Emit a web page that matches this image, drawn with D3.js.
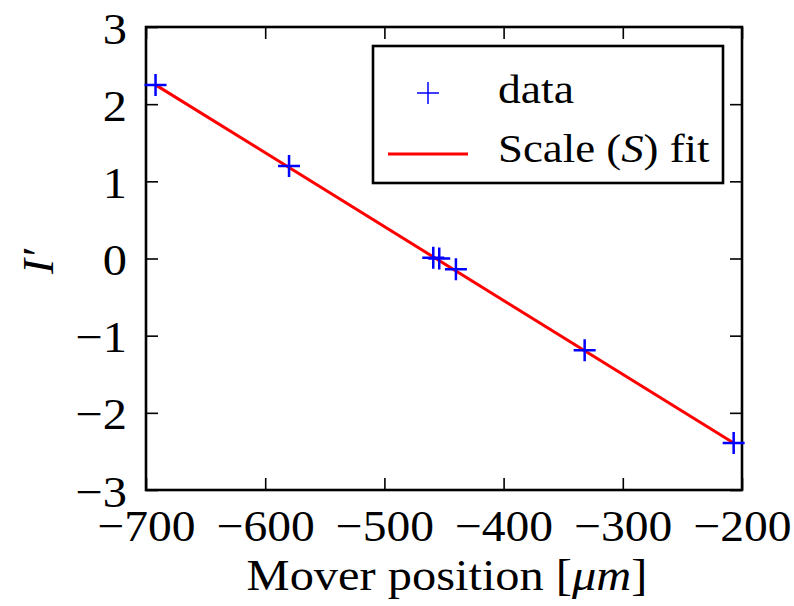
<!DOCTYPE html>
<meta charset="utf-8">
<head>
    <title>Scale fit</title>
    <script src="https://d3js.org/d3.v7.min.js"></script>
    <style>
        body { margin: 0; background: #ffffff; }
        text { font-family: "Liberation Serif", "DejaVu Serif", serif; fill: #000; }
    </style>
</head>
<body>
<div id="my_dataviz"></div>
<script>

// data
var posX = [-692, -580, -459, -454, -440, -332, -207];
var posY = [2.25, 1.20, 0.01, 0.0, -0.14, -1.19, -2.39];
// fitted line end points
var fitX = [-692, -207];
var fitY = [2.25, -2.39];
var xTicks = [-700, -600, -500, -400, -300, -200];
var yTicks = [-3, -2, -1, 0, 1, 2, 3];

// set dimensions and margins of the graph
var margin = {top: 27, right: 52, bottom: 116, left: 146},
    width = 794 - margin.left - margin.right,
    height = 606 - margin.top - margin.bottom;

var svg = d3.select("#my_dataviz")
    .append("svg")
    .attr("width", 794)
    .attr("height", 606)
    .append("g")
    .attr("transform", "translate(" + margin.left + "," + margin.top + ")");

var x = d3.scaleLinear().domain([-700, -200]).range([0, width]);
var y = d3.scaleLinear().domain([-3, 3]).range([height, 0]);

// widen Times glyphs a bit so they come closer to Computer Modern
function stretch(sel, k) {
    sel.each(function() {
        var w = this.getComputedTextLength();
        d3.select(this).attr("textLength", w * k).attr("lengthAdjust", "spacingAndGlyphs");
    });
}

// axes, ticks pointing inward on all four sides
var xAxis = svg.append("g")
    .attr("transform", "translate(0," + height + ")")
    .call(d3.axisBottom(x).tickValues(xTicks).tickFormat(d3.format("d")).tickSize(-12).tickPadding(0));
xAxis.selectAll("text").attr("y", 51).attr("dy", 0).style("font-size", "44px");
stretch(xAxis.selectAll("text"), 1.08);

svg.append("g")
    .call(d3.axisTop(x).tickValues(xTicks).tickSize(-12).tickFormat(""));

var yAxis = svg.append("g")
    .call(d3.axisLeft(y).tickValues(yTicks).tickFormat(d3.format("d")).tickSize(-12).tickPadding(0));
yAxis.selectAll("text").attr("x", -19).attr("dy", 16).style("font-size", "44px");
stretch(yAxis.selectAll("text"), 1.1);

svg.append("g")
    .attr("transform", "translate(" + width + ",0)")
    .call(d3.axisRight(y).tickValues(yTicks).tickSize(-12).tickFormat(""));

svg.selectAll(".domain").remove();
svg.selectAll(".tick line").attr("stroke", "#000").attr("stroke-width", 1.6);

// frame
svg.append("rect")
    .attr("width", width).attr("height", height)
    .attr("fill", "none").attr("stroke", "#000").attr("stroke-width", 2.6);

// axis labels
var xl = svg.append("text")
    .attr("x", width / 2 + 3).attr("y", 563)
    .attr("text-anchor", "middle")
    .style("font-size", "44px");
xl.append("tspan").text("Mover position [");
xl.append("tspan").style("font-style", "italic").text("μm");
xl.append("tspan").text("]");
stretch(xl, 1.1);

svg.append("text")
    .attr("transform", "translate(" + (53 - margin.left) + "," + (height / 2 + 3) + ") rotate(-90)")
    .attr("text-anchor", "middle")
    .style("font-size", "45px")
    .style("font-style", "italic")
    .text("I′");

// fit line
var fit = fitX.map(function(d, i) { return {x: d, y: fitY[i]}; });
svg.append("path")
    .datum(fit)
    .attr("fill", "none")
    .attr("stroke", "#ff0000")
    .attr("stroke-width", 3)
    .attr("d", d3.line().x(function(d) { return x(d.x); }).y(function(d) { return y(d.y); }));

// data crosses
var pts = posX.map(function(d, i) { return {x: d, y: posY[i]}; });
svg.append("g")
    .selectAll("path")
    .data(pts)
    .enter()
    .append("path")
    .attr("transform", function(d) { return "translate(" + x(d.x) + "," + y(d.y) + ")"; })
    .attr("d", "M-11,0H11M0,-11V11")
    .attr("stroke", "#0000ff")
    .attr("stroke-width", 2.5)
    .attr("fill", "none");

// legend
var lg = svg.append("g").attr("transform", "translate(" + (373 - margin.left) + "," + (46 - margin.top) + ")");
lg.append("rect")
    .attr("width", 350).attr("height", 137)
    .attr("fill", "#fff").attr("stroke", "#000").attr("stroke-width", 2.6);
lg.append("path")
    .attr("transform", "translate(55,47)")
    .attr("d", "M-11,0H11M0,-11V11")
    .attr("stroke", "#0000ff").attr("stroke-width", 1.5);
var t1 = lg.append("text").attr("x", 125).attr("y", 57).style("font-size", "40px").text("data");
stretch(t1, 1.14);
lg.append("line")
    .attr("x1", 15).attr("x2", 95).attr("y1", 108).attr("y2", 108)
    .attr("stroke", "#ff0000").attr("stroke-width", 3);
var t2 = lg.append("text").attr("x", 125).attr("y", 116).style("font-size", "40px");
t2.append("tspan").text("Scale (");
t2.append("tspan").style("font-style", "italic").text("S");
t2.append("tspan").text(") fit");
stretch(t2, 1.12);

</script>
</body>
</html>
